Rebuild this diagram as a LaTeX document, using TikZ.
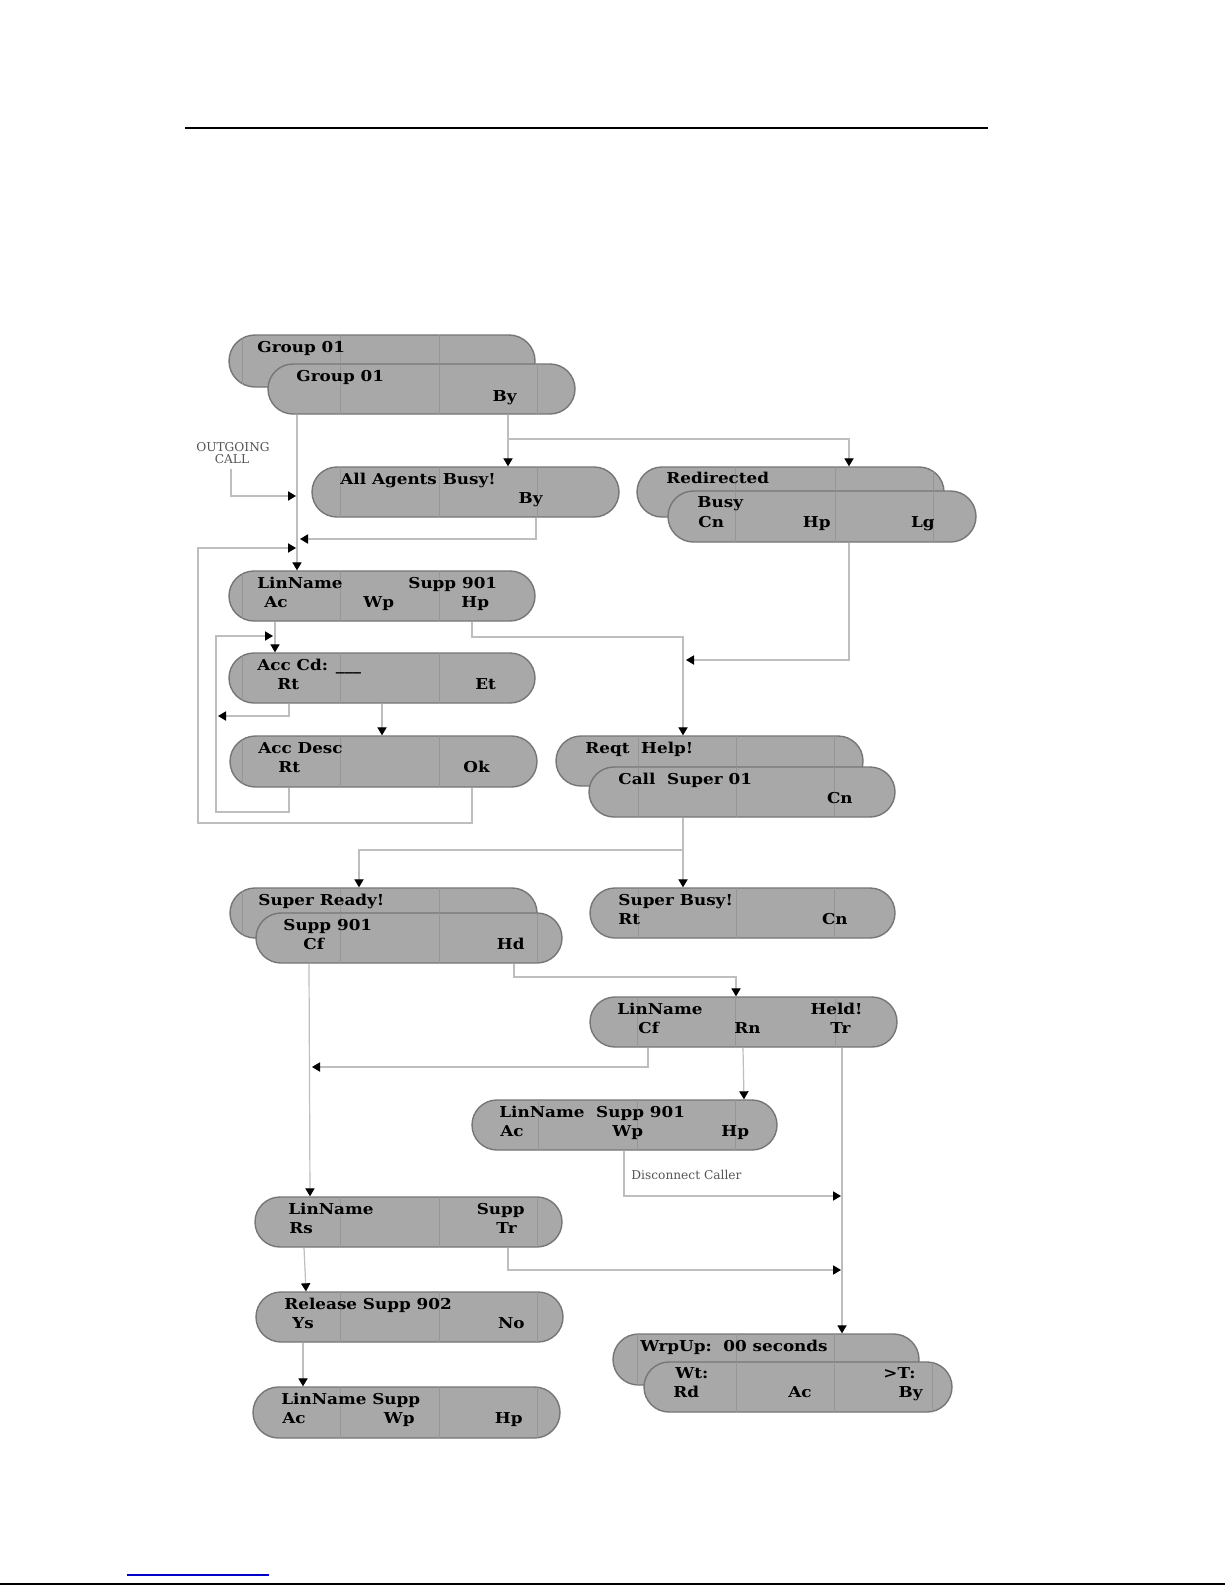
\documentclass[tikz,border=0pt]{standalone}
\usepackage{fontspec}
\setmainfont{DejaVu Serif}[FakeStretch=1.12]
\newfontfamily\notefont{DejaVu Serif}
\usetikzlibrary{arrows.meta}
\definecolor{lcdfill}{RGB}{168,168,168}
\definecolor{lcdedge}{RGB}{118,118,118}
\definecolor{lcddiv}{RGB}{150,150,150}
\definecolor{conn}{RGB}{190,190,190}
\definecolor{notegray}{RGB}{85,85,85}
\definecolor{linkblue}{RGB}{0,0,200}
\tikzset{
  lcdbox/.style={draw=lcdedge, line width=0.7pt, fill=lcdfill, inner sep=0pt, rectangle},
  divline/.style={draw=lcddiv, line width=0.3pt},
  lbl/.style={font=\bfseries\fontsize{7.5}{8.5}\selectfont, inner sep=0pt, text=black},
  note/.style={font=\notefont\fontsize{6.1}{7}\selectfont, inner sep=0pt, text=notegray},
  conline/.style={draw=conn, line width=0.6pt},
  arr/.style={conline, -{Triangle[length=4pt,width=4.6pt,color=black]}},
}
\newcommand\lcd[6]{%
  \pgfmathsetmacro\lcdW{(#4-#2)*0.5}%
  \pgfmathsetmacro\lcdH{(#5-#3)*0.5}%
  \pgfmathsetmacro\lcdR{(#5-#3)*0.25}%
  \node[lcdbox, minimum width=\lcdW pt, minimum height=\lcdH pt, rounded corners=\lcdR pt] (#1) at ({(#2+#4)/2},{(#3+#5)/2}) {};
  \begin{scope}
    \clip[rounded corners=\lcdR pt] (#2,#3) rectangle (#4,#5);
    \foreach \d in {#6} {\draw[divline] (\d,#3) -- (\d,#5);}
  \end{scope}}
\begin{document}
\begin{tikzpicture}[x=0.5pt,y=-0.5pt]
\useasboundingbox (0,0) rectangle (1225,1585);
\fill[white] (0,0) rectangle (1225,1585);

% page rules
\draw[line width=1pt, black] (185,128) -- (988,128);
\draw[line width=0.8pt, linkblue] (127,1575) -- (269,1575);
\draw[line width=1pt, black] (0,1584) -- (1225,1584);

% ---------- screens ----------
\lcd{grpA}{229}{335}{535}{387}{242,340,439}
\lcd{grpB}{268}{364}{575}{414}{340,439,537}
\lcd{busyA}{312}{467}{619}{517}{340,439,537}
\lcd{redA}{637}{467}{944}{517}{735,835,933}
\lcd{redB}{668}{491}{976}{542}{735,835,933}
\lcd{linA}{229}{571}{535}{621}{242,340,439}
\lcd{acc}{229}{653}{535}{703}{242,340,439}
\lcd{desc}{230}{736}{537}{787}{242,340,439}
\lcd{reqA}{556}{736}{863}{786}{638,736,834}
\lcd{reqB}{589}{767}{895}{817}{638,736,834}
\lcd{sbusy}{590}{888}{895}{938}{638,736,834}
\lcd{srdA}{230}{888}{537}{938}{242,340,439}
\lcd{srdB}{256}{913}{562}{963}{340,439,537}
\lcd{held}{590}{997}{897}{1047}{637,735,835}
\lcd{linB}{472}{1100}{777}{1150}{538,637,735}
\lcd{rs}{255}{1197}{562}{1247}{340,439,537}
\lcd{rel}{256}{1292}{563}{1342}{340,439,537}
\lcd{last}{253}{1387}{560}{1438}{340,439,537}
\lcd{wrpA}{613}{1334}{919}{1385}{637,736,834}
\lcd{wrpB}{644}{1362}{952}{1412}{736,834,932}

% ---------- texts ----------
\node[lbl, anchor=base west] (tgA) at (257,352) {Group 01};
\node[lbl, anchor=base west] (tgB) at (296,381) {Group 01};
\node[lbl, anchor=base east] (tgBy) at (517,401) {By};
\node[lbl, anchor=base west] (tab) at (340,484) {All Agents Busy!};
\node[lbl, anchor=base east] (tabBy) at (543,503) {By};
\node[lbl, anchor=base west] (trd) at (666,483) {Redirected};
\node[lbl, anchor=base west] (trb) at (697,507) {Busy};
\node[lbl, anchor=base west] (trCn) at (698,527) {Cn};
\node[lbl, anchor=base east] (trHp) at (831,527) {Hp};
\node[lbl, anchor=base east] (trLg) at (935,527) {Lg};
\node[lbl, anchor=base west] (tl1) at (257,588) {LinName};
\node[lbl, anchor=base west] (tl1s) at (408,588) {Supp 901};
\node[lbl, anchor=base west] (tl1Ac) at (264,607) {Ac};
\node[lbl, anchor=base west] (tl1Wp) at (363,607) {Wp};
\node[lbl, anchor=base west] (tl1Hp) at (461,607) {Hp};
\node[lbl, anchor=base west] (tac) at (257,670) {Acc Cd: \_\_\_};
\node[lbl, anchor=base west] (tacRt) at (277,689) {Rt};
\node[lbl, anchor=base west] (tacEt) at (475,689) {Et};
\node[lbl, anchor=base west] (tds) at (258,753) {Acc Desc};
\node[lbl, anchor=base west] (tdsRt) at (278,772) {Rt};
\node[lbl, anchor=base west] (tdsOk) at (463,772) {Ok};
\node[lbl, anchor=base west] (trq) at (585,753) {Reqt\ \ Help!};
\node[lbl, anchor=base west] (tcs) at (618,784) {Call\ \ Super 01};
\node[lbl, anchor=base east] (tcsCn) at (853,803) {Cn};
\node[lbl, anchor=base west] (tsb) at (618,905) {Super Busy!};
\node[lbl, anchor=base west] (tsbRt) at (618,924) {Rt};
\node[lbl, anchor=base east] (tsbCn) at (848,924) {Cn};
\node[lbl, anchor=base west] (tsr) at (258,905) {Super Ready!};
\node[lbl, anchor=base west] (tsp) at (283,930) {Supp 901};
\node[lbl, anchor=base west] (tspCf) at (303,949) {Cf};
\node[lbl, anchor=base east] (tspHd) at (525,949) {Hd};
\node[lbl, anchor=base west] (thl) at (617,1014) {LinName};
\node[lbl, anchor=base east] (thlH) at (863,1014) {Held!};
\node[lbl, anchor=base west] (thlCf) at (638,1033) {Cf};
\node[lbl, anchor=base west] (thlRn) at (734,1033) {Rn};
\node[lbl, anchor=base west] (thlTr) at (830,1033) {Tr};
\node[lbl, anchor=base west] (tl2) at (499,1117) {LinName\ \ Supp 901};
\node[lbl, anchor=base west] (tl2Ac) at (500,1136) {Ac};
\node[lbl, anchor=base west] (tl2Wp) at (612,1136) {Wp};
\node[lbl, anchor=base west] (tl2Hp) at (721,1136) {Hp};
\node[lbl, anchor=base west] (trs) at (288,1214) {LinName};
\node[lbl, anchor=base east] (trsS) at (525,1214) {Supp};
\node[lbl, anchor=base west] (trsRs) at (289,1233) {Rs};
\node[lbl, anchor=base east] (trsTr) at (517,1233) {Tr};
\node[lbl, anchor=base west] (trl) at (284,1309) {Release Supp 902};
\node[lbl, anchor=base west] (trlYs) at (292,1328) {Ys};
\node[lbl, anchor=base east] (trlNo) at (525,1328) {No};
\node[lbl, anchor=base west] (tls) at (281,1404) {LinName Supp};
\node[lbl, anchor=base west] (tlsAc) at (282,1423) {Ac};
\node[lbl, anchor=base east] (tlsWp) at (415,1423) {Wp};
\node[lbl, anchor=base east] (tlsHp) at (523,1423) {Hp};
\node[lbl, anchor=base west] (twu) at (640,1351) {WrpUp:\ \ 00 seconds};
\node[lbl, anchor=base west] (twt) at (675,1378) {Wt:};
\node[lbl, anchor=base east] (twT) at (916,1378) {>T:};
\node[lbl, anchor=base west] (twRd) at (673,1397) {Rd};
\node[lbl, anchor=base west] (twAc) at (788,1397) {Ac};
\node[lbl, anchor=base east] (twBy) at (923,1397) {By};

% notes
\node[note, anchor=base] (outg1) at (233,451) {OUTGOING};
\node[note, anchor=base] (outg2) at (232,463) {CALL};
\node[note, anchor=base west] (disc) at (631,1179) {Disconnect Caller};

% ---------- connectors ----------
\coordinate (oc) at (231,469);
\coordinate (tipOut) at (296,496);
\coordinate (tipAB) at (300,539);
\coordinate (tipLoop) at (296,548);
\coordinate (tipIn) at (273,636);
\coordinate (tipRt) at (218,716);
\coordinate (tipRed) at (686,660);
\coordinate (tipCf) at (312,1067);
\coordinate (tipDisc) at (841,1196);
\coordinate (tipTr) at (841,1270);

\draw[arr] (297,0 |- grpB.south) -- (297,0 |- linA.north);
\draw[arr] (508,0 |- grpB.south) -- (508,0 |- busyA.north);
\draw[arr] (508,439) -| (849,0 |- redA.north);
\draw[arr] (oc) |- (tipOut);
\draw[arr] (536,0 |- busyA.south) |- (tipAB);
\draw[arr] (472,0 |- desc.south) |- (198,823) |- (tipLoop);
\draw[arr] (275,0 |- linA.south) -- (275,0 |- acc.north);
\draw[arr] (289,0 |- desc.south) |- (216,812) |- (tipIn);
\draw[arr] (289,0 |- acc.south) |- (tipRt);
\draw[arr] (382,0 |- acc.south) -- (382,0 |- desc.north);
\draw[arr] (472,0 |- linA.south) |- (683,637) -- (683,0 |- reqA.north);
\draw[arr] (849,0 |- redB.south) |- (tipRed);
\draw[arr] (683,0 |- reqB.south) -- (683,0 |- sbusy.north);
\draw[arr] (683,850) -| (359,0 |- srdA.north);
\draw[arr] (514,0 |- srdB.south) |- (736,977) -- (736,0 |- held.north);
\draw[arr] (309,0 |- srdB.south) -- (310,0 |- rs.north);
\draw[arr] (648,0 |- held.south) |- (tipCf);
\draw[arr] (743,0 |- held.south) -- (744,0 |- linB.north);
\draw[arr] (842,0 |- held.south) -- (842,0 |- wrpA.north);
\draw[arr] (624,0 |- linB.south) |- (tipDisc);
\draw[arr] (508,0 |- rs.south) |- (tipTr);
\draw[arr] (304,0 |- rs.south) -- (306,0 |- rel.north);
\draw[arr] (303,0 |- rel.south) -- (303,0 |- last.north);
\end{tikzpicture}
\end{document}
